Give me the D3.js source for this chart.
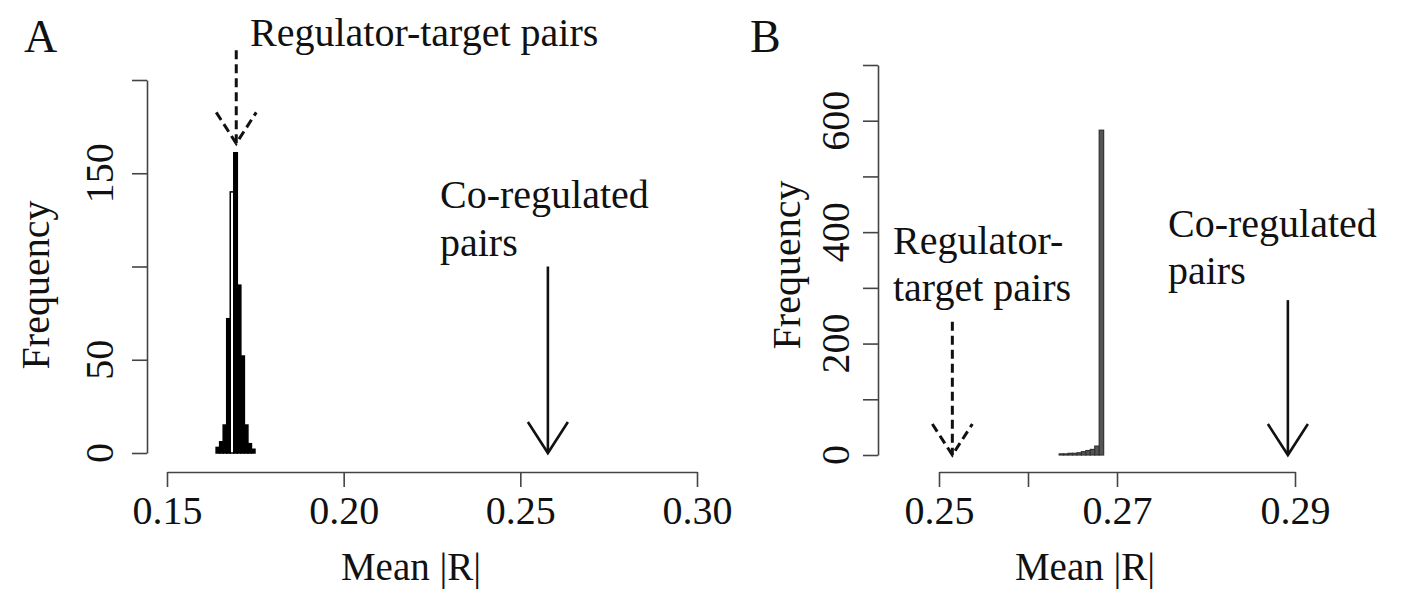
<!DOCTYPE html>
<html>
<head>
<meta charset="utf-8">
<script src="https://cdn.jsdelivr.net/npm/d3@7"></script>
<style>
  html, body { margin: 0; padding: 0; background: #fff; }
  svg { display: block; }
  text { font-family: "Liberation Serif", "Times New Roman", serif; fill: #111; }
</style>
</head>
<body>
<svg id="chart" width="1401" height="593"></svg>
<script>
// ---------- DATA ----------
// Panel A: histogram of mean |R| (random pairs)
const binStartA = 0.1639;
const binWidthA = 0.001;
const countsA = [3, 6, 15, 72, 140, 161, 90, 52, 15, 5, 2];
const xTicksA = [0.15, 0.20, 0.25, 0.30];
const xTickLabelsA = ["0.15", "0.20", "0.25", "0.30"];
const yTicksA = [0, 50, 100, 150, 200];
const yTickLabelsA = ["0", "50", "", "150", ""];
const arrowRegTargetA = { x: 0.1696, from: 216, to: 166 };
const arrowCoRegA = { x: 0.2578, from: 100, to: 0 };

// Panel B
const binStartB = 0.2635;
const binWidthB = 0.0005;
const countsB = [2, 2, 3, 3, 4, 6, 8, 10, 16, 583];
const xTicksB = [0.25, 0.26, 0.27, 0.29];
const xTickLabelsB = ["0.25", "", "0.27", "0.29"];
const yTicksB = [0, 100, 200, 300, 400, 500, 600, 700];
const yTickLabelsB = ["0", "", "200", "", "400", "", "600", ""];
const arrowRegTargetB = { x: 0.2515, from: 239, to: 0 };
const arrowCoRegB = { x: 0.2892, from: 278, to: 0 };

const panelLabels = ["A", "B"];
const axisTitleX = "Mean |R|";
const axisTitleY = "Frequency";

// ---------- DRAW ----------
const svg = d3.select("#chart");
svg.append("rect").attr("width", 1401).attr("height", 593).attr("fill", "#fff");

const FS = 39;
const FS_NOTE = 40;

function drawPanel(cfg) {
  const g = svg.append("g");
  const x = d3.scaleLinear().domain(cfg.xDomain).range(cfg.xRange);
  const y = d3.scaleLinear().domain(cfg.yDomain).range(cfg.yRange);

  // histogram bars
  const bins = cfg.counts.map((c, i) => ({
    x0: cfg.binStart + i * cfg.binWidth,
    x1: cfg.binStart + (i + 1) * cfg.binWidth,
    c: c, i: i
  }));
  g.selectAll("rect.bar").data(bins).enter().append("rect")
    .attr("class", "bar")
    .attr("x", d => x(d.x0))
    .attr("width", d => Math.max(0.5, x(d.x1) - x(d.x0)))
    .attr("y", d => y(d.c))
    .attr("height", d => y(0) - y(d.c))
    .attr("fill", d => cfg.barFill(d))
    .attr("stroke", cfg.barStroke)
    .attr("stroke-width", cfg.barStrokeWidth);

  // x axis
  const xAxis = d3.axisBottom(x).tickValues(cfg.xTicks).tickSize(15).tickSizeOuter(0)
    .tickFormat((d, i) => cfg.xTickLabels[i]);
  const gx = g.append("g").attr("transform", `translate(0,${cfg.xAxisY})`).call(xAxis);
  gx.select(".domain").attr("stroke", "#444").attr("stroke-width", 1.6);
  gx.selectAll(".tick line").attr("stroke", "#444").attr("stroke-width", 1.6);
  gx.selectAll(".tick text").attr("font-size", FS_NOTE).attr("font-family", "Liberation Serif")
    .attr("fill", "#111").attr("y", 24).attr("dy", "0.71em");

  // y axis
  const yAxis = d3.axisLeft(y).tickValues(cfg.yTicks).tickSize(15).tickSizeOuter(0)
    .tickFormat("");
  const gy = g.append("g").attr("transform", `translate(${cfg.yAxisX},0)`).call(yAxis);
  gy.select(".domain").attr("stroke", "#444").attr("stroke-width", 1.6);
  gy.selectAll(".tick line").attr("stroke", "#444").attr("stroke-width", 1.6);
  cfg.yTicks.forEach((t, i) => {
    if (!cfg.yTickLabels[i]) return;
    g.append("text")
      .attr("transform", `translate(${cfg.yLabelX},${y(t)}) rotate(-90)`)
      .attr("text-anchor", "middle")
      .attr("font-size", FS_NOTE)
      .text(cfg.yTickLabels[i]);
  });

  // axis titles
  g.append("text").attr("x", cfg.xTitleX).attr("y", 580).attr("text-anchor", "middle")
    .attr("font-size", FS).text(axisTitleX);
  g.append("text")
    .attr("transform", `translate(${cfg.yTitleX},${cfg.yTitleY}) rotate(-90)`)
    .attr("text-anchor", "middle").attr("font-size", FS_NOTE).text(axisTitleY);

  // panel label
  g.append("text").attr("x", cfg.panelX).attr("y", 52).attr("font-size", 46).text(cfg.panel);

  // arrows
  function arrow(a, dashed, width) {
    const ax = x(a.x), y0 = y(a.from), y1 = y(a.to);
    const ag = g.append("g").attr("fill", "none").attr("stroke", "#111")
      .attr("stroke-width", width);
    if (dashed) ag.attr("stroke-dasharray", "9,5");
    ag.append("line").attr("x1", ax).attr("x2", ax).attr("y1", y0).attr("y2", y1);
    ag.append("path").attr("d",
      `M${ax - 20},${y1 - 31} L${ax},${y1} L${ax + 20},${y1 - 31}`);
  }
  arrow(cfg.arrowDashed, true, 3);
  arrow(cfg.arrowSolid, false, 2.6);

  // annotations
  cfg.notes.forEach(n => {
    g.append("text").attr("x", n.x).attr("y", n.y).attr("font-size", FS_NOTE).text(n.t);
  });
}

drawPanel({
  panel: panelLabels[0], panelX: 24,
  xDomain: [0.15, 0.30], xRange: [167, 697],
  yDomain: [0, 200], yRange: [453, 80],
  counts: countsA, binStart: binStartA, binWidth: binWidthA,
  barFill: d => (d.i === 4 ? "#fff" : "#000"), barStroke: "#000", barStrokeWidth: 1.5,
  xTicks: xTicksA, xTickLabels: xTickLabelsA,
  yTicks: yTicksA, yTickLabels: yTickLabelsA,
  xAxisY: 472, yAxisX: 147, yLabelX: 113,
  xTitleX: 411, yTitleX: 49, yTitleY: 285,
  arrowDashed: arrowRegTargetA, arrowSolid: arrowCoRegA,
  notes: [
    { x: 250, y: 46, t: "Regulator-target pairs" },
    { x: 440, y: 208, t: "Co-regulated" },
    { x: 440, y: 256, t: "pairs" }
  ]
});

drawPanel({
  panel: panelLabels[1], panelX: 750,
  xDomain: [0.25, 0.29], xRange: [939, 1295],
  yDomain: [0, 700], yRange: [455, 65],
  counts: countsB, binStart: binStartB, binWidth: binWidthB,
  barFill: d => "#555", barStroke: "#333", barStrokeWidth: 1.2,
  xTicks: xTicksB, xTickLabels: xTickLabelsB,
  yTicks: yTicksB, yTickLabels: yTickLabelsB,
  xAxisY: 472, yAxisX: 878, yLabelX: 849,
  xTitleX: 1085, yTitleX: 800, yTitleY: 265,
  arrowDashed: arrowRegTargetB, arrowSolid: arrowCoRegB,
  notes: [
    { x: 893, y: 254, t: "Regulator-" },
    { x: 893, y: 301, t: "target pairs" },
    { x: 1168, y: 237, t: "Co-regulated" },
    { x: 1168, y: 284, t: "pairs" }
  ]
});
</script>
</body>
</html>
